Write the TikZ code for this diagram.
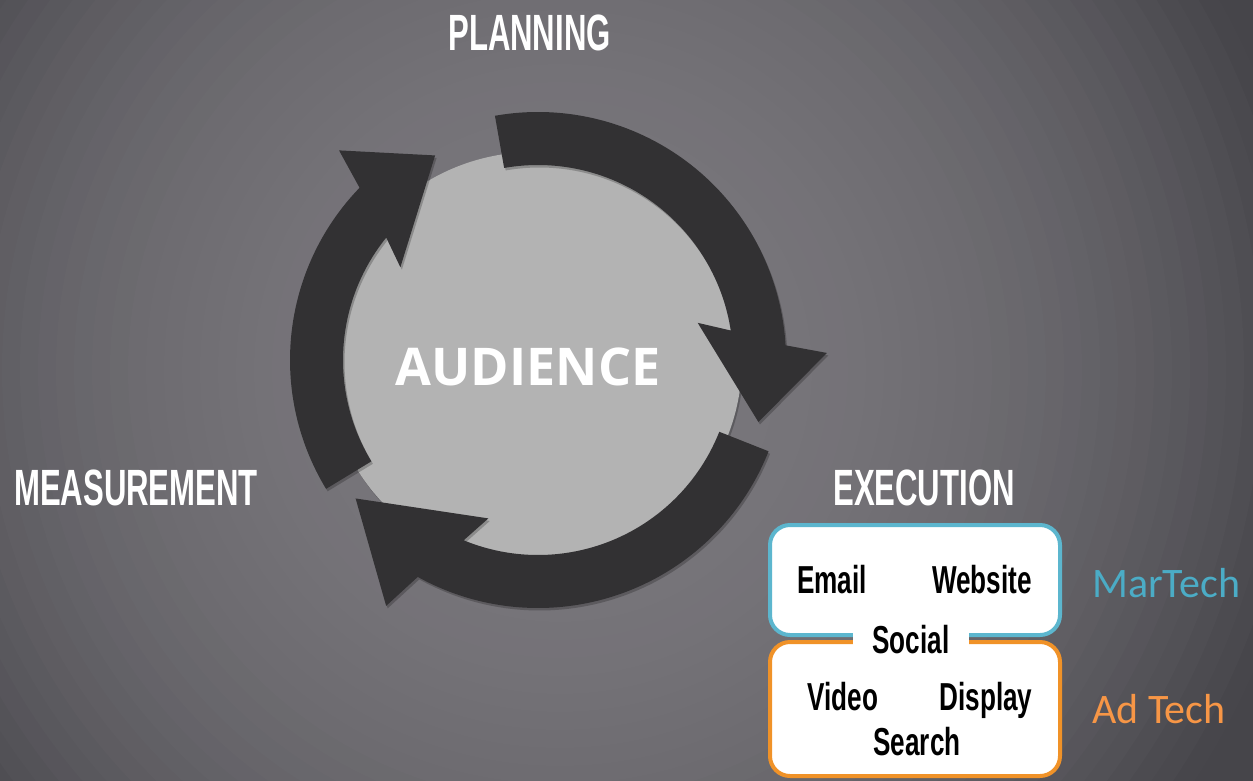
\documentclass[tikz,border=0pt]{standalone}
\usepackage{fontspec}
\setmainfont{Liberation Sans}
\newfontfamily\headfont[FakeStretch=0.61]{Liberation Sans}
\newfontfamily\boxfont[FakeStretch=0.67]{Liberation Sans}
\newfontfamily\audfont{Open Sans}
\newfontfamily\calfont{Carlito}
\definecolor{arrowgray}{RGB}{50,49,51}
\definecolor{lightc}{RGB}{179,179,179}
\definecolor{mtblue}{RGB}{75,172,198}
\definecolor{atorange}{RGB}{247,150,70}
\definecolor{boxblue}{RGB}{92,182,206}
\definecolor{boxorange}{RGB}{240,146,40}
\definecolor{bglight}{RGB}{121,119,124}
\definecolor{bgdark}{RGB}{70,69,74}
\begin{document}
\begin{tikzpicture}[x=1pt,y=1pt,
  shadowed/.style={preaction={fill=black, fill opacity=0.22, transform canvas={xshift=1.5pt,yshift=-2.5pt}}},
  cyclearrow/.style={fill=arrowgray, shadowed},
  headtext/.style={font=\headfont\bfseries\fontsize{51}{56}\selectfont, text=white, inner sep=0pt, anchor=base},
  itemtext/.style={font=\boxfont\bfseries\fontsize{39}{44}\selectfont, text=black, inner sep=0pt, anchor=base},
  techtext/.style={font=\calfont\fontsize{42}{48}\selectfont, inner sep=0pt, anchor=base west},
  techbox/.style={fill=white, line width=4pt, rounded corners=20pt}]
\useasboundingbox (0,0) rectangle (1253,-780);
% background: banded radial gradient
\begin{scope}
  \clip (0,0) rectangle (1253,-780);
  \fill[bgdark] (0,0) rectangle (1253,-780);
  \foreach \r in {900,882,...,18} {
    \pgfmathsetmacro\w{100*min(1,(\r/760)^2.5)}
    \fill[bgdark!\w!bglight] (560,-370) circle[radius=\r];
  }
\end{scope}
% central disc
\node[circle, fill=lightc, minimum size=416pt, inner sep=0pt, shadowed] (disc) at (534,-360) {};
\node[font=\audfont\bfseries\fontsize{52}{58}\selectfont, text=white, inner sep=0pt] (aud) at (528,-367) {AUDIENCE};
% cycle arrows
\begin{scope}[shift={(538,-360)}]
  \fill[cyclearrow] (100:248) arc[start angle=100, end angle=3.4, radius=248]
    -- (1.4:289) -- (-15.7:229) -- (13.1:164) -- (8.7:195)
    arc[start angle=8.7, end angle=100, radius=195] -- cycle;
  \fill[cyclearrow] (-21.6:248) arc[start angle=-21.6, end angle=-119, radius=248]
    -- (-121.7:289) -- (-142.8:229) -- (-107.4:166) -- (-112.4:195)
    arc[start angle=-112.4, end angle=-21.6, radius=195] -- cycle;
  \fill[cyclearrow] (211.3:248) arc[start angle=211.3, end angle=136, radius=248]
    -- (133.5:289) -- (116.7:229) -- (146:166) -- (141.1:195)
    arc[start angle=141.1, end angle=211.3, radius=195] -- cycle;
\end{scope}
% stage labels
\node[headtext] (planning) at (529.5,-50) {PLANNING};
\node[headtext] (measurement) at (136,-505) {MEASUREMENT};
\node[headtext] (execution) at (924,-505) {EXECUTION};
% tech boxes
\draw[techbox, draw=boxblue] (770,-525) rectangle (1060,-635);
\draw[techbox, draw=boxorange] (770,-642) rectangle (1060,-776);
\node[itemtext] (email) at (832,-593) {Email};
\node[itemtext] (website) at (982,-593) {Website};
\node[itemtext, fill=white, inner xsep=20pt, inner ysep=4pt] (social) at (911,-653) {Social};
\node[itemtext] (video) at (843,-710) {Video};
\node[itemtext] (display) at (986,-710) {Display};
\node[itemtext] (search) at (917,-755) {Search};
\node[techtext, text=mtblue] (martech) at (1092,-597) {MarTech};
\node[techtext, text=atorange] (adtech) at (1092,-723) {Ad Tech};
\end{tikzpicture}
\end{document}
